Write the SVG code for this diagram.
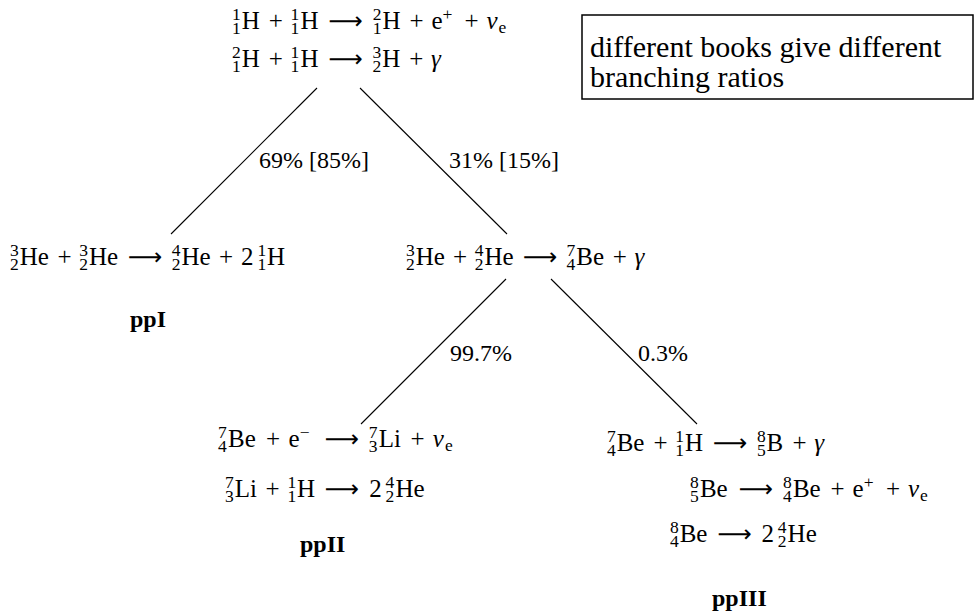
<svg xmlns="http://www.w3.org/2000/svg" width="974" height="613" viewBox="0 0 974 613">
<style>
text{font-family:"Liberation Serif","Times New Roman",serif;font-size:24px;fill:#000}
.m{font-size:25px}
.s{font-size:17.5px}
.it{font-style:italic}
.ar{font-family:"DejaVu Sans",sans-serif;font-size:24px;text-anchor:middle}
.b{font-weight:bold}
.note{font-size:30px}
.conn line{stroke:#000;stroke-width:1.1}
</style>
<rect width="974" height="613" fill="#fff"/>
<g id="connectors" class="conn">
<line x1="317" y1="88" x2="171" y2="234"/>
<line x1="360" y1="88" x2="507" y2="234"/>
<line x1="506" y1="279" x2="361" y2="424"/>
<line x1="551" y1="279" x2="697" y2="424"/>
</g>
<g id="node-top">
<text class="m"><tspan class="s" x="232" y="20">1</tspan><tspan class="s" x="232" y="34">1</tspan><tspan x="241.8" y="29">H</tspan><tspan x="268.7" y="29">+</tspan><tspan class="s" x="290.6" y="20">1</tspan><tspan class="s" x="290.6" y="34">1</tspan><tspan x="300.4" y="29">H</tspan><tspan class="ar" x="345.8" y="29">⟶</tspan><tspan class="s" x="372.8" y="20">2</tspan><tspan class="s" x="372.8" y="34">1</tspan><tspan x="382.6" y="29">H</tspan><tspan x="409.5" y="29">+</tspan><tspan x="431.5" y="29">e</tspan><tspan class="s" x="442.5" y="20">+</tspan><tspan x="464.4" y="29">+</tspan><tspan class="it" x="486.4" y="29">ν</tspan><tspan class="s" x="498.4" y="33">e</tspan></text>
<text class="m"><tspan class="s" x="232" y="58">2</tspan><tspan class="s" x="232" y="72">1</tspan><tspan x="241.8" y="67">H</tspan><tspan x="268.7" y="67">+</tspan><tspan class="s" x="290.6" y="58">1</tspan><tspan class="s" x="290.6" y="72">1</tspan><tspan x="300.4" y="67">H</tspan><tspan class="ar" x="345.8" y="67">⟶</tspan><tspan class="s" x="372.5" y="58">3</tspan><tspan class="s" x="372.5" y="72">2</tspan><tspan x="382.3" y="67">H</tspan><tspan x="409.2" y="67">+</tspan><tspan class="it" x="431.1" y="67">γ</tspan></text>
</g>
<g id="node-note">
<rect x="582" y="15" width="391" height="84" fill="none" stroke="#000" stroke-width="1.5"/>
<text class="note" x="590" y="57">different books give different</text>
<text class="note" x="590" y="87">branching ratios</text>
</g>
<g id="label-69">
<text x="259" y="168">69% [85%]</text>
</g>
<g id="label-31">
<text x="449" y="168">31% [15%]</text>
</g>
<g id="node-ppI">
<text class="m"><tspan class="s" x="10" y="256">3</tspan><tspan class="s" x="10" y="270">2</tspan><tspan x="19.7" y="265">He</tspan><tspan x="57.4" y="265">+</tspan><tspan class="s" x="79.3" y="256">3</tspan><tspan class="s" x="79.3" y="270">2</tspan><tspan x="89" y="265">He</tspan><tspan class="ar" x="145.1" y="265">⟶</tspan><tspan class="s" x="171.7" y="256">4</tspan><tspan class="s" x="171.7" y="270">2</tspan><tspan x="181.5" y="265">He</tspan><tspan x="219.1" y="265">+</tspan><tspan x="241" y="265">2</tspan><tspan class="s" x="257.4" y="256">1</tspan><tspan class="s" x="257.4" y="270">1</tspan><tspan x="267.1" y="265">H</tspan></text>
<text class="b" x="130" y="327">ppI</text>
</g>
<g id="node-mid">
<text class="m"><tspan class="s" x="406" y="256">3</tspan><tspan class="s" x="406" y="270">2</tspan><tspan x="415.7" y="265">He</tspan><tspan x="453.1" y="265">+</tspan><tspan class="s" x="474.8" y="256">4</tspan><tspan class="s" x="474.8" y="270">2</tspan><tspan x="484.5" y="265">He</tspan><tspan class="ar" x="540.2" y="265">⟶</tspan><tspan class="s" x="566.6" y="256">7</tspan><tspan class="s" x="566.6" y="270">4</tspan><tspan x="576.3" y="265">Be</tspan><tspan x="612.7" y="265">+</tspan><tspan class="it" x="634.4" y="265">γ</tspan></text>
</g>
<g id="label-997">
<text x="450" y="361">99.7%</text>
</g>
<g id="label-03">
<text x="638" y="361">0.3%</text>
</g>
<g id="node-ppII">
<text class="m"><tspan class="s" x="218" y="438">7</tspan><tspan class="s" x="218" y="452">4</tspan><tspan x="228.1" y="447">Be</tspan><tspan x="266.1" y="447">+</tspan><tspan x="288.5" y="447">e</tspan><tspan class="s" x="299.8" y="438">−</tspan><tspan class="ar" x="342" y="447">⟶</tspan><tspan class="s" x="368.7" y="438">7</tspan><tspan class="s" x="368.7" y="452">3</tspan><tspan x="378.7" y="447">Li</tspan><tspan x="410.4" y="447">+</tspan><tspan class="it" x="432.8" y="447">ν</tspan><tspan class="s" x="445.1" y="451">e</tspan></text>
<text class="m"><tspan class="s" x="225" y="488">7</tspan><tspan class="s" x="225" y="502">3</tspan><tspan x="234.8" y="497">Li</tspan><tspan x="265.4" y="497">+</tspan><tspan class="s" x="287.4" y="488">1</tspan><tspan class="s" x="287.4" y="502">1</tspan><tspan x="297.1" y="497">H</tspan><tspan class="ar" x="342" y="497">⟶</tspan><tspan x="369.2" y="497">2</tspan><tspan class="s" x="385.6" y="488">4</tspan><tspan class="s" x="385.6" y="502">2</tspan><tspan x="395.4" y="497">He</tspan></text>
<text class="b" x="300" y="552">ppII</text>
</g>
<g id="node-ppIII">
<text class="m"><tspan class="s" x="607" y="442">7</tspan><tspan class="s" x="607" y="456">4</tspan><tspan x="616.7" y="451">Be</tspan><tspan x="653.4" y="451">+</tspan><tspan class="s" x="675.3" y="442">1</tspan><tspan class="s" x="675.3" y="456">1</tspan><tspan x="685.1" y="451">H</tspan><tspan class="ar" x="730.2" y="451">⟶</tspan><tspan class="s" x="756.9" y="442">8</tspan><tspan class="s" x="756.9" y="456">5</tspan><tspan x="766.6" y="451">B</tspan><tspan x="792.4" y="451">+</tspan><tspan class="it" x="814.3" y="451">γ</tspan></text>
<text class="m"><tspan class="s" x="690" y="488">8</tspan><tspan class="s" x="690" y="502">5</tspan><tspan x="699.9" y="497">Be</tspan><tspan class="ar" x="755.9" y="497">⟶</tspan><tspan class="s" x="783" y="488">8</tspan><tspan class="s" x="783" y="502">4</tspan><tspan x="792.9" y="497">Be</tspan><tspan x="830.4" y="497">+</tspan><tspan x="852.5" y="497">e</tspan><tspan class="s" x="863.7" y="488">+</tspan><tspan x="885.9" y="497">+</tspan><tspan class="it" x="908" y="497">ν</tspan><tspan class="s" x="920.1" y="501">e</tspan></text>
<text class="m"><tspan class="s" x="670" y="533">8</tspan><tspan class="s" x="670" y="547">4</tspan><tspan x="679.7" y="542">Be</tspan><tspan class="ar" x="734.8" y="542">⟶</tspan><tspan x="761.4" y="542">2</tspan><tspan class="s" x="777.8" y="533">4</tspan><tspan class="s" x="777.8" y="547">2</tspan><tspan x="787.6" y="542">He</tspan></text>
<text class="b" x="712" y="606">ppIII</text>
</g>
</svg>
